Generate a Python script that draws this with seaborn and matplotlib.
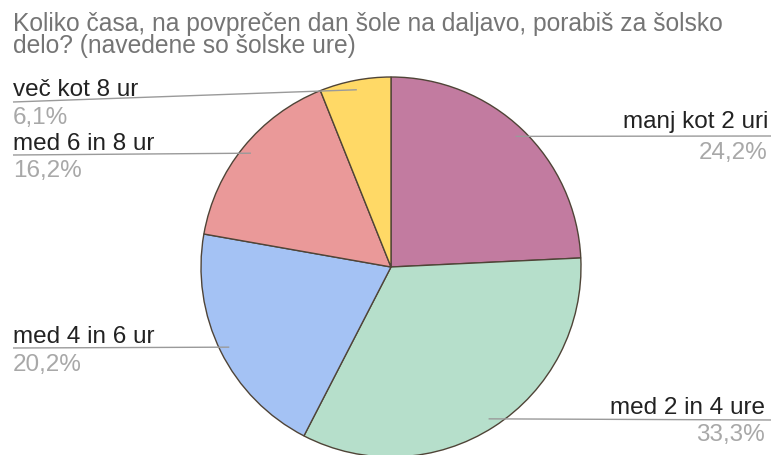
import seaborn as sns
import matplotlib.pyplot as plt
import numpy as np

W, H = 772, 456

title_lines = [
    "Koliko časa, na povprečen dan šole na daljavo, porabiš za šolsko",
    "delo? (navedene so šolske ure)",
]
labels = ["manj kot 2 uri", "med 2 in 4 ure", "med 4 in 6 ur", "med 6 in 8 ur", "več kot 8 ur"]
counts = [24, 33, 20, 16, 6]
colors = ["#c27ba0", "#b6dfcb", "#a4c2f4", "#ea9999", "#ffd966"]

# label layout in image pixels: (x anchor, text baseline, line y, pct baseline, align)
label_pos = {
    "manj kot 2 uri": (768, 128, 137, 159, "right"),
    "med 2 in 4 ure": (765, 414, 421, 441, "right"),
    "med 4 in 6 ur": (13, 343, 349, 371, "left"),
    "med 6 in 8 ur": (13, 150, 156, 177, "left"),
    "več kot 8 ur": (13, 96, 103, 124, "left"),
}

sns.set_theme(style="white")
plt.rcParams["font.family"] = ["Liberation Sans", "DejaVu Sans"]

fig = plt.figure(figsize=(W / 100, H / 100), dpi=100)
ax = fig.add_axes([0, 0, 1, 1])

center = (391, H - 268)
radius = 190
wedges, _ = ax.pie(
    counts,
    colors=sns.color_palette(colors),
    startangle=90,
    counterclock=False,
    center=center,
    radius=radius,
    wedgeprops=dict(edgecolor="#4f4437", linewidth=1),
)
ax.set_xlim(0, W)
ax.set_ylim(0, H)
ax.set_aspect("equal")
ax.axis("off")

total = sum(counts)
for w, lab, c in zip(wedges, labels, counts):
    mid = np.deg2rad((w.theta1 + w.theta2) / 2)
    px = center[0] + 0.95 * radius * np.cos(mid)
    py = center[1] + 0.95 * radius * np.sin(mid)
    x, tb, ly, pb, ha = label_pos[lab]
    end_x = 771 if ha == "right" else 13
    ax.plot([end_x, px], [H - ly, py], color="#9a9a9a", lw=1, solid_capstyle="butt")
    ax.text(x, H - tb, lab, ha=ha, va="baseline", fontsize=17.5, color="#222222")
    pct = f"{100 * c / total:.1f}%".replace(".", ",")
    ax.text(x, H - pb, pct, ha=ha, va="baseline", fontsize=17.5, color="#a8a8a8")

ax.text(13, H - 31, title_lines[0], ha="left", va="baseline", fontsize=17.7, color="#757575")
ax.text(13, H - 53, title_lines[1], ha="left", va="baseline", fontsize=17.7, color="#757575")

fig.savefig("out.png", dpi=100, facecolor="white")
